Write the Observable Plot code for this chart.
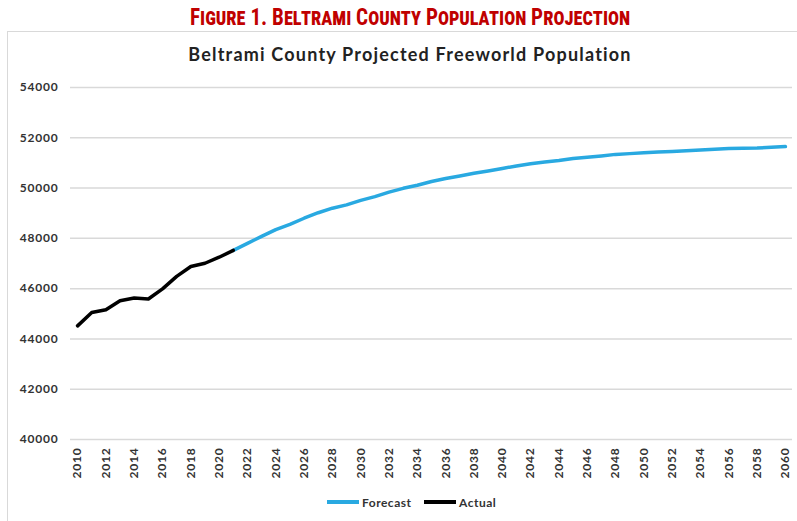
<!DOCTYPE html>
<html>
<head>
<meta charset="utf-8">
<script src="https://cdn.jsdelivr.net/npm/d3@7"></script>
<script src="https://cdn.jsdelivr.net/npm/@observablehq/plot@0.6"></script>
<style>
  html, body { margin: 0; padding: 0; background: #fff; width: 797px; height: 521px; overflow: hidden; }
  #page { position: relative; width: 797px; height: 521px; }
  #fig { position: absolute; left: 0; width: 820px; top: 4px; text-align: center;
         font-family: "Liberation Sans Narrow", "Roboto Condensed", "Liberation Sans", sans-serif;
         font-weight: bold; font-variant: small-caps; font-size: 24px; color: #C00000; line-height: 26px; }
  #fig span { display: inline-block; transform: scaleX(0.88); transform-origin: center; }
  #box { position: absolute; left: 7px; top: 31px; width: 820px; height: 520px; border: 1.5px solid #d9d9d9; box-sizing: border-box; }
  #title { position: absolute; left: 0; width: 820px; top: 43px; text-align: center;
           font-family: Lato, "DejaVu Sans", sans-serif; font-weight: bold; font-size: 18px; letter-spacing: 1.2px; color: #222; }
  #chart { position: absolute; left: 0; top: 70px; }
  #chart text { letter-spacing: 0.8px; }
  #legend { position: absolute; top: 493px; left: 0; width: 797px; height: 18px;
            font-family: Lato, "DejaVu Sans", sans-serif; font-weight: bold; font-size: 12px; letter-spacing: 0.5px; color: #333; }
  .li { position: absolute; top: 0; display: flex; align-items: center; height: 18px; }
  .sw { display: inline-block; width: 32px; height: 4px; margin-right: 3px; }
</style>
</head>
<body>
<div id="page">
  <div id="box"></div>
  <div id="fig"><span>Figure 1. Beltrami County Population Projection</span></div>
  <div id="title">Beltrami County Projected Freeworld Population</div>
  <div id="chart"></div>
  <div id="legend"></div>
</div>
<script>
const actualYears = [2010, 2011, 2012, 2013, 2014, 2015, 2016, 2017, 2018, 2019, 2020, 2021];
const actualValues = [44520, 45050, 45160, 45520, 45630, 45590, 45990, 46490, 46880, 47010, 47250, 47520];

const forecastYears = d3.range(2021, 2061);
const forecastValues = [
  47520, 47800, 48080, 48350, 48560, 48800, 49020, 49200, 49330, 49510,
  49660, 49840, 49990, 50110, 50260, 50380, 50480, 50590, 50680, 50780,
  50880, 50970, 51040, 51100, 51180, 51230, 51280, 51340, 51370, 51400,
  51430, 51450, 51480, 51510, 51540, 51570, 51580, 51590, 51620, 51650
];

const yTicks = [40000, 42000, 44000, 46000, 48000, 50000, 52000, 54000];
const xTicks = d3.range(2010, 2061, 2);

const seriesNames = ["Forecast", "Actual"];
const seriesColors = ["#29a9e1", "#000000"];

const actual = actualYears.map((y, i) => ({year: y, value: actualValues[i], series: "Actual"}));
const forecast = forecastYears.map((y, i) => ({year: y, value: forecastValues[i], series: "Forecast"}));

const plot = Plot.plot({
  width: 797,
  height: 420,
  marginLeft: 70,
  marginRight: 5,
  marginTop: 17,
  marginBottom: 51,
  style: {fontFamily: "Lato, 'DejaVu Sans', sans-serif", fontWeight: "bold", fontSize: "12px", color: "#333", background: "transparent", overflow: "visible"},
  x: {domain: [2009.5, 2060.5]},
  y: {domain: [40000, 54000]},
  marks: [
    Plot.gridY(yTicks, {stroke: "#d9d9d9", strokeOpacity: 1, strokeWidth: 1.5}),
    Plot.axisY(yTicks, {tickSize: 0, tickPadding: 12, tickFormat: d => String(d), label: null, fontSize: 12}),
    Plot.axisX(xTicks, {tickSize: 0, tickPadding: 8, tickRotate: -90, tickFormat: d => String(d), label: null, fontSize: 12}),
    Plot.line(forecast, {x: "year", y: "value", stroke: seriesColors[0], strokeWidth: 3.5}),
    Plot.line(actual, {x: "year", y: "value", stroke: seriesColors[1], strokeWidth: 3.5})
  ]
});
document.getElementById("chart").appendChild(plot);

const legend = document.getElementById("legend");
const lefts = [327, 424];
seriesNames.forEach((name, i) => {
  const d = document.createElement("div");
  d.className = "li";
  d.style.left = lefts[i] + "px";
  d.innerHTML = `<span class="sw" style="background:${seriesColors[i]}"></span><span>${name}</span>`;
  legend.appendChild(d);
});
</script>
</body>
</html>
